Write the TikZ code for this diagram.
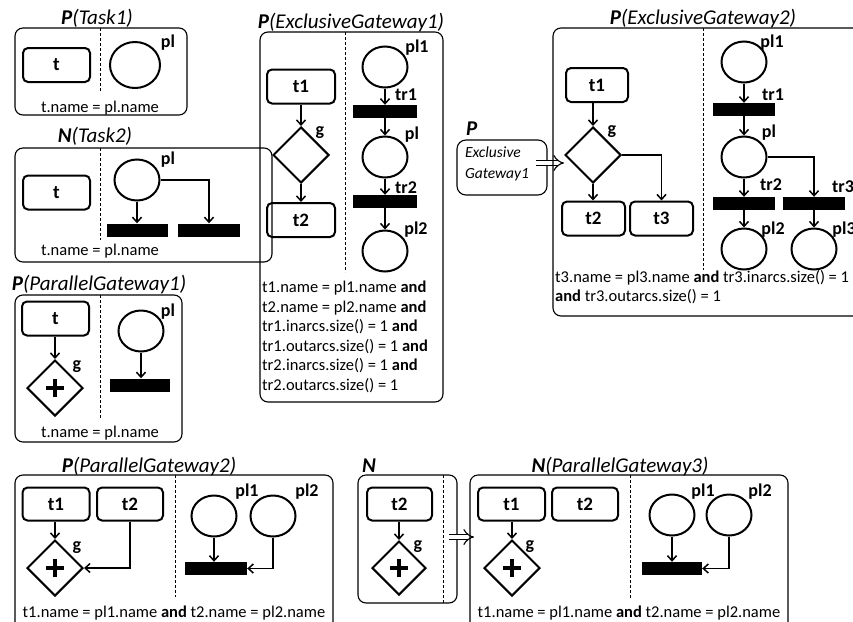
\documentclass[tikz,border=0pt]{standalone}
\usepackage{fontspec}
\setmainfont{Carlito}
\usetikzlibrary{arrows.meta,shapes.geometric,calc}
\begin{document}
\begin{tikzpicture}[x=1pt,y=-1pt,
  panel/.style={draw, line width=1.1pt, rounded corners=8pt},
  sepline/.style={line width=0.8pt, dash pattern=on 3pt off 2pt},
  task/.style={draw, line width=2pt, rounded corners=5pt, inner sep=0pt, minimum height=34, font=\bfseries\fontsize{19}{21}\selectfont},
  place/.style={ellipse, draw, line width=2pt, inner sep=0pt, minimum width=45, minimum height=41},
  bar/.style={fill=black, inner sep=0pt, minimum width=62, minimum height=13},
  gw/.style={diamond, draw, line width=2pt, inner sep=0pt, minimum width=56, minimum height=56},
  gwp/.style={gw, path picture={\draw[line width=4.5pt] ([xshift=-9pt]path picture bounding box.center) -- ([xshift=9pt]path picture bounding box.center) ([yshift=-9pt]path picture bounding box.center) -- ([yshift=9pt]path picture bounding box.center);}},
  lab/.style={font=\bfseries\fontsize{18}{20}\selectfont, inner sep=0pt},
  title/.style={font=\itshape\fontsize{21}{24}\selectfont, anchor=base, inner sep=0pt},
  cond/.style={font=\fontsize{16.5}{19.7}\selectfont, anchor=base, inner sep=0pt},
  condl/.style={cond, anchor=base west},
  arr/.style={line width=1.5pt, -{Straight Barb[length=5pt,width=9pt]}},
  imp/.style={double, double distance=4.5pt, line width=1.1pt, -{Implies}}
]
\useasboundingbox (0,0) rectangle (853,621);
\fill[white] (0,0) rectangle (853,621);
\clip (0,0) rectangle (853,621);

% ---------- Panel 1: P(Task1)
\draw[panel] (15,28) rectangle (187,115);
\node[title] (a-title) at (97,24) {\textbf{P}(Task1)};
\draw[sepline] (100,28) -- (100,92);
\node[task, minimum width=67] (a-t) at (56.5,65) {t};
\node[place, minimum width=50, minimum height=46] (a-pl) at (135,65) {};
\node[lab] (a-lpl) at (168,43) {pl};
\node[cond] (a-c) at (100,112.5) {t.name = pl.name};

% ---------- Panel 2: N(Task2)
\draw[panel] (15,148) rectangle (272,262);
\node[title] (b-title) at (95,142) {\textbf{N}(Task2)};
\draw[sepline] (100,148) -- (100,240);
\node[task, minimum width=67] (b-t) at (56.5,192.5) {t};
\node[place] (b-pl) at (137,180) {};
\node[lab] (b-lpl) at (168,160) {pl};
\node[bar, minimum width=61] (b-tr1) at (137.5,230) {};
\node[bar] (b-tr2) at (209,230) {};
\draw[arr] (b-pl.south) -- (b-pl.south |- b-tr1.north);
\draw[arr] (b-pl.east) -| (b-tr2.north);
\node[cond] (b-c) at (100,255.5) {t.name = pl.name};

% ---------- Panel 3: P(ParallelGateway1)
\draw[panel] (15,295) rectangle (182,442);
\node[title] (c-title) at (99,290) {\textbf{P}(ParallelGateway1)};
\draw[sepline] (100,295) -- (100,418);
\node[task, minimum width=67] (c-t) at (55.5,318.5) {t};
\node[gwp] (c-g) at (55,388) {};
\node[lab] (c-lg) at (77,367) {g};
\draw[arr] (c-g.north |- c-t.south) -- (c-g.north);
\node[place] (c-pl) at (141,331) {};
\node[lab] (c-lpl) at (168,312) {pl};
\node[bar, minimum width=60] (c-tr) at (140,385) {};
\draw[arr] (c-pl.south) -- (c-pl.south |- c-tr.north);
\node[cond] (c-c) at (100,437.5) {t.name = pl.name};

% ---------- Panel 4: P(ExclusiveGateway1)
\draw[panel] (260,32) rectangle (443,402);
\node[title] (d-title) at (351,28) {\textbf{P}(ExclusiveGateway1)};
\draw[sepline] (345,32) -- (345,272);
\node[task, minimum width=68] (d-t1) at (301,86.5) {t1};
\node[gw] (d-g) at (301,155) {};
\node[lab] (d-lg) at (320,133) {g};
\node[task, minimum width=68] (d-t2) at (301,220) {t2};
\draw[arr] (d-t1.south) -- (d-g.north);
\draw[arr] (d-g.south) -- (d-t2.north);
\node[place] (d-pl1) at (385,67) {};
\node[bar, minimum width=64] (d-tr1) at (385,111.5) {};
\node[place] (d-pl) at (385,157) {};
\node[bar, minimum width=64] (d-tr2) at (385,201.5) {};
\node[place] (d-pl2) at (385,251) {};
\draw[arr] (d-pl1.south) -- (d-tr1.north);
\draw[arr] (d-tr1.south) -- (d-pl.north);
\draw[arr] (d-pl.south) -- (d-tr2.north);
\draw[arr] (d-tr2.south) -- (d-pl2.north);
\node[lab] (d-lpl1) at (417,48) {pl1};
\node[lab] (d-ltr1) at (406,95) {tr1};
\node[lab] (d-lpl) at (412,135) {pl};
\node[lab] (d-ltr2) at (406,188) {tr2};
\node[lab] (d-lpl2) at (416,230) {pl2};
\node[condl] (d-c1) at (262,292.5) {t1.name = pl1.name \textbf{and}};
\node[condl] (d-c2) at (262,312) {t2.name = pl2.name \textbf{and}};
\node[condl] (d-c3) at (262,331.5) {tr1.inarcs.size() = 1 \textbf{and}};
\node[condl] (d-c4) at (262,351) {tr1.outarcs.size() = 1 \textbf{and}};
\node[condl] (d-c5) at (262,370.5) {tr2.inarcs.size() = 1 \textbf{and}};
\node[condl] (d-c6) at (262,390) {tr2.outarcs.size() = 1};

% ---------- small P box
\node[title, anchor=base west] (p-title) at (466,135) {\textbf{P}};
\node[draw, line width=1.1pt, rounded corners=9pt, minimum width=90, minimum height=55, inner sep=0pt] (pb) at (502,167.5) {};
\node[font=\itshape\fontsize{15.5}{21}\selectfont, align=left, inner sep=0pt] (pbt) at (497,164) {Exclusive\\Gateway1};
\coordinate (ia) at (536,163);
\coordinate (ib) at (564,163);
\draw[imp] (ia) -- (ib);

% ---------- Panel 5: P(ExclusiveGateway2)
\draw[panel] (553,28) rectangle (900,316);
\node[title] (e-title) at (703,24) {\textbf{P}(ExclusiveGateway2)};
\draw[sepline] (703,28) -- (703,270);
\node[task, minimum width=62] (e-t1) at (597,85) {t1};
\node[gw] (e-g) at (593,155) {};
\node[lab] (e-lg) at (612,132) {g};
\node[task, minimum width=63] (e-t2) at (593.5,218.5) {t2};
\node[task, minimum width=63] (e-t3) at (661.5,218.5) {t3};
\draw[arr] (e-g.north |- e-t1.south) -- (e-g.north);
\draw[arr] (e-g.south) -- (e-g.south |- e-t2.north);
\draw[arr] (e-g.east) -| (e-t3.north);
\node[place] (e-pl1) at (744,62) {};
\node[bar] (e-tr1) at (744,109.5) {};
\node[place] (e-pl) at (744,157) {};
\node[bar] (e-tr2) at (744,203.5) {};
\node[bar] (e-tr3) at (814,203.5) {};
\node[place] (e-pl2) at (744,249) {};
\node[place] (e-pl3) at (814,249) {};
\draw[arr] (e-pl1.south) -- (e-tr1.north);
\draw[arr] (e-tr1.south) -- (e-pl.north);
\draw[arr] (e-pl.south) -- (e-tr2.north);
\draw[arr] (e-pl.east) -| (e-tr3.north);
\draw[arr] (e-tr2.south) -- (e-pl2.north);
\draw[arr] (e-tr3.south) -- (e-pl3.north);
\node[lab] (e-lpl1) at (772,43) {pl1};
\node[lab] (e-ltr1) at (773,95) {tr1};
\node[lab] (e-lpl) at (769,133) {pl};
\node[lab] (e-ltr2) at (771,185) {tr2};
\node[lab] (e-ltr3) at (843,187) {tr3};
\node[lab] (e-lpl2) at (773,230) {pl2};
\node[lab] (e-lpl3) at (844,230) {pl3};
\node[condl] (e-c1) at (555,282.5) {t3.name = pl3.name \textbf{and} tr3.inarcs.size() = 1};
\node[condl] (e-c2) at (555,301.5) {\textbf{and} tr3.outarcs.size() = 1};

% ---------- Panel 6: P(ParallelGateway2)
\draw[panel] (15,475) rectangle (333,650);
\node[title] (f-title) at (149,472) {\textbf{P}(ParallelGateway2)};
\draw[sepline] (175,475) -- (175,597);
\node[task, minimum width=67, minimum height=33] (f-t1) at (56,504) {t1};
\node[task, minimum width=66, minimum height=33] (f-t2) at (130,504) {t2};
\node[gwp] (f-g) at (55,568) {};
\node[lab] (f-lg) at (77,548) {g};
\draw[arr] (f-g.north |- f-t1.south) -- (f-g.north);
\draw[arr] (f-t2.south) |- (f-g.east);
\node[place] (f-pl1) at (214,516) {};
\node[place] (f-pl2) at (273,516) {};
\node[lab] (f-lpl1) at (247,492) {pl1};
\node[lab] (f-lpl2) at (307,492) {pl2};
\node[bar] (f-tr) at (216,568.5) {};
\draw[arr] (f-pl1.south) -- (f-pl1.south |- f-tr.north);
\draw[arr] (f-pl2.south) |- (f-tr.east);
\node[cond] (f-c) at (174,617.5) {t1.name = pl1.name \textbf{and} t2.name = pl2.name};

% ---------- Panel 7: N
\draw[panel] (358,475) rectangle (457,603);
\node[title, anchor=base west] (g-title) at (362,472) {\textbf{N}};
\draw[sepline] (443,475) -- (443,603);
\node[task, minimum width=65, minimum height=33] (g-t2) at (399.5,504) {t2};
\node[gwp, minimum width=54, minimum height=54] (g-g) at (399,568) {};
\node[lab] (g-lg) at (418,547) {g};
\draw[arr] (g-g.north |- g-t2.south) -- (g-g.north);
\coordinate (ja) at (449,537);
\coordinate (jb) at (474,537);
\draw[imp] (ja) -- (jb);

% ---------- Panel 8: N(ParallelGateway3)
\draw[panel] (470,475) rectangle (788,650);
\node[title] (h-title) at (620,472) {\textbf{N}(ParallelGateway3)};
\draw[sepline] (630,475) -- (630,598);
\node[task, minimum width=67, minimum height=33] (h-t1) at (511.5,504) {t1};
\node[task, minimum width=66, minimum height=33] (h-t2) at (585,504) {t2};
\node[gwp] (h-g) at (512,568) {};
\node[lab] (h-lg) at (530,547) {g};
\draw[arr] (h-g.north |- h-t1.south) -- (h-g.north);
\node[place] (h-pl1) at (672,515) {};
\node[place] (h-pl2) at (729,515) {};
\node[lab] (h-lpl1) at (703,492) {pl1};
\node[lab] (h-lpl2) at (760,492) {pl2};
\node[bar, minimum width=60] (h-tr) at (672,568.5) {};
\draw[arr] (h-pl1.south) -- (h-tr.north);
\draw[arr] (h-pl2.south) |- (h-tr.east);
\node[cond] (h-c) at (629,617.5) {t1.name = pl1.name \textbf{and} t2.name = pl2.name};
\end{tikzpicture}
\end{document}
